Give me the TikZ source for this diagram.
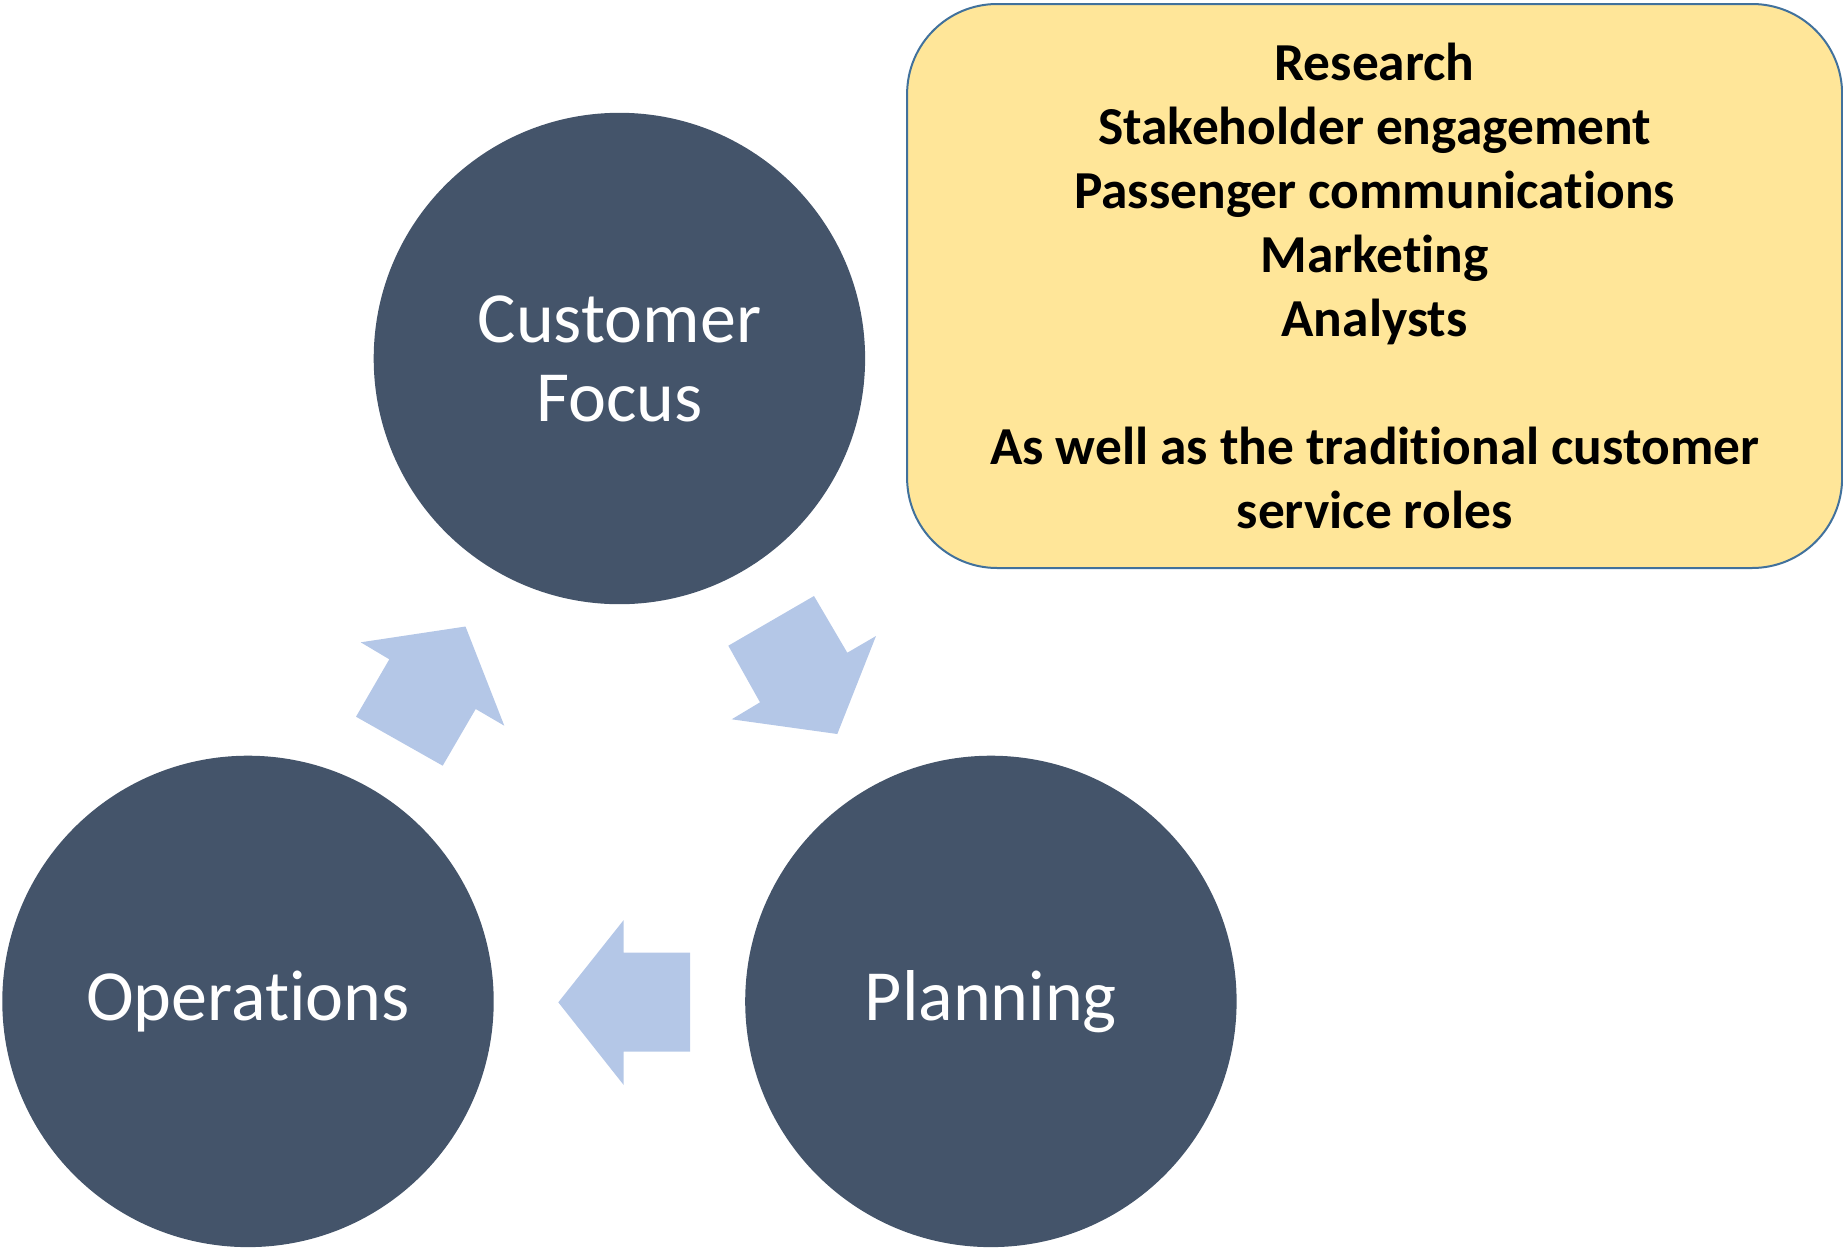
\documentclass[tikz,border=0pt]{standalone}
\usepackage{fontspec}
\setmainfont[Ligatures={NoCommon}]{Carlito}
\definecolor{circfill}{HTML}{44546A}
\definecolor{arrowfill}{HTML}{B4C7E7}
\definecolor{boxfill}{HTML}{FFE699}
\definecolor{boxline}{HTML}{41719C}
\begin{document}
\begin{tikzpicture}[x=1pt,y=-1pt,
  bigcircle/.style={circle, fill=circfill, minimum size=491.4pt, inner sep=0pt,
    text=white, align=center, font={\fontsize{72}{79}\selectfont}},
  blockarrow/.style={fill=arrowfill, draw=none},
  infobox/.style={rectangle, rounded corners=90pt, fill=boxfill, draw=boxline, line width=2pt,
    minimum width=935pt, minimum height=564pt, inner sep=0pt, align=center,
    font={\bfseries\fontsize{53.4}{64}\selectfont}}]
\useasboundingbox (0,0) rectangle (1843,1250);
\node[bigcircle] (cf) at (619.4,358.5) {Customer\\Focus};
\node[bigcircle] (ops) at (248,1001.4) {Operations};
\node[bigcircle] (plan) at (990.9,1001.4) {Planning};
\node[infobox] (box) at (1374.6,286) {Research\\Stakeholder engagement\\Passenger communications\\Marketing\\Analysts\\\mbox{}\\As well as the traditional customer\\service roles};
% block arrows
\fill[blockarrow] (465.5,626.5) -- (504.3,725.7) -- (475.7,709) -- (442.7,765.7) -- (356,716.7) -- (389.3,659.3) -- (360.7,642.3) -- cycle;
\fill[blockarrow] (814,596) -- (847.3,652.7) -- (876,636) -- (837.3,734) -- (731.7,719.3) -- (760,702.3) -- (728.3,645.7) -- cycle;
\fill[blockarrow] (558.3,1002.3) -- (623.7,920) -- (623.7,952.7) -- (690,952.7) -- (690,1051.7) -- (623.7,1051.7) -- (623.7,1085) -- cycle;
\end{tikzpicture}
\end{document}
